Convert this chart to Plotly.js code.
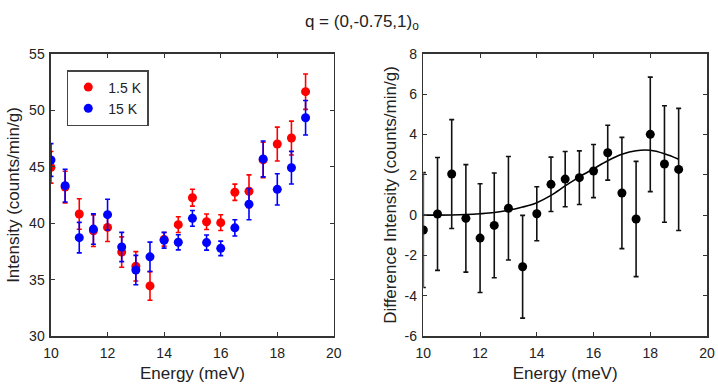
<!DOCTYPE html>
<html>
<head>
<meta charset="utf-8">
<script src="https://cdn.plot.ly/plotly-3.0.1.min.js"></script>
<style>html,body{margin:0;padding:0;background:#fff;}#chart{width:718px;height:389px;}</style>
</head>
<body>
<div id="chart"></div>
<script>
const energy = [10,10.5,11,11.5,12,12.5,13,13.5,14,14.5,15,15.5,16,16.5,17,17.5,18,18.5,19];
const int1p5K = [44.95,43.2,40.82,39.33,39.63,37.44,36.18,34.44,38.57,39.87,42.26,40.13,40.05,42.74,42.83,45.61,47.02,47.55,51.66];
const err1p5K = [1.4,1.4,1.35,1.4,1.25,1.35,1.3,1.27,0.6,0.7,0.75,0.69,0.7,0.72,1.45,1.57,1.5,1.5,1.57];
const int15K = [45.6,43.33,38.72,39.48,40.76,37.89,35.85,37.02,38.49,38.31,40.43,38.28,37.77,39.59,41.69,45.7,43.0,44.92,49.35];
const err15K = [1.45,1.45,1.35,1.35,1.36,1.3,1.3,1.3,0.7,0.67,0.7,0.67,0.64,0.72,1.38,1.59,1.38,1.45,1.53];
const diffInt = [-0.74,0.06,2.04,-0.16,-1.14,-0.51,0.34,-2.56,0.07,1.53,1.79,1.86,2.19,3.10,1.10,-0.19,4.01,2.54,2.27];
const diffErr = [2.85,2.8,2.7,2.67,2.7,2.6,2.57,2.55,1.34,1.35,1.37,1.33,1.32,1.36,2.76,2.86,2.84,2.89,3.03];
const fitEnergy = [10,10.5,11,11.5,12,12.5,13,13.5,14,14.5,15,15.5,16,16.5,17,17.5,18,18.5,19];
const fitInt = [0.0,0.0,0.01,0.03,0.07,0.13,0.24,0.4,0.62,0.98,1.45,1.9,2.3,2.7,3.02,3.2,3.22,3.05,2.78];
const xTicks = [10,12,14,16,18,20];
const yTicksLeft = [30,35,40,45,50,55];
const yTicksRight = [-6,-4,-2,0,2,4,6,8];

const FONT = 'Liberation Sans, Arial, sans-serif';
function eb(arr, color){ return {type:'data', array:arr, visible:true, color:color, thickness:1.6, width:2.5}; }

const traces = [
  {x:energy, y:int1p5K, name:'1.5 K', type:'scatter', mode:'markers',
   marker:{color:'#ff0000', size:9}, error_y:eb(err1p5K,'#ff0000'), xaxis:'x', yaxis:'y'},
  {x:energy, y:int15K, name:'15 K', type:'scatter', mode:'markers',
   marker:{color:'#0000ff', size:9}, error_y:eb(err15K,'#0000ff'), xaxis:'x', yaxis:'y'},
  {x:fitEnergy, y:fitInt, type:'scatter', mode:'lines', showlegend:false,
   line:{color:'#000', width:1.6, shape:'spline'}, xaxis:'x2', yaxis:'y2'},
  {x:energy, y:diffInt, type:'scatter', mode:'markers', showlegend:false,
   marker:{color:'#000', size:9}, error_y:eb(diffErr,'#111'), xaxis:'x2', yaxis:'y2'}
];

function xax(domain, anchor){
  return {domain:domain, anchor:anchor, range:[10,20], tickvals:xTicks, ticktext:xTicks.map(String),
    ticks:'inside', ticklen:4, tickwidth:1, tickcolor:'#333', showline:true, linecolor:'#333', linewidth:1.5,
    mirror:'ticks', showgrid:false, zeroline:false, ticklabelstandoff:4,
    tickfont:{family:FONT, size:14, color:'#222'},
    title:{text:'Energy (meV)', font:{family:FONT, size:17, color:'#222'}, standoff:7}};
}
function yax(domain, anchor, range, vals, title, so){
  return {domain:domain, anchor:anchor, range:range, tickvals:vals, ticktext:vals.map(String),
    ticks:'inside', ticklen:4, tickwidth:1, tickcolor:'#333', showline:true, linecolor:'#333', linewidth:1.5,
    mirror:'ticks', showgrid:false, zeroline:false, ticklabelstandoff:2,
    tickfont:{family:FONT, size:14, color:'#222'},
    title:{text:title, font:{family:FONT, size:17, color:'#222'}, standoff:so}};
}

const layout = {
  width:718, height:389,
  margin:{l:0, r:0, t:0, b:0},
  paper_bgcolor:'#fff', plot_bgcolor:'#fff',
  showlegend:true,
  title:{text:'q = (0,-0.75,1)<sub>o</sub>', x:0.504, xanchor:'center', y:0.947, yanchor:'middle',
    font:{family:FONT, size:17, color:'#222'}},
  xaxis: xax([0.071,0.465],'y'),
  yaxis: yax([0.1362,0.8612],'x',[30,55],yTicksLeft,'Intensity (counts/min/g)',5),
  xaxis2: xax([0.5896,0.9847],'y2'),
  yaxis2: yax([0.1362,0.8612],'x2',[-6,8],yTicksRight,'Difference Intensity (counts/min/g)',3),
  legend:{x:0.093, y:0.82, xanchor:'left', yanchor:'top', bgcolor:'#fff', bordercolor:'#444', borderwidth:1.5,
    font:{family:FONT, size:14, color:'#222'}, itemwidth:30, tracegroupgap:0}
};

Plotly.newPlot('chart', traces, layout, {displayModeBar:false, staticPlot:true});
</script>
</body>
</html>
